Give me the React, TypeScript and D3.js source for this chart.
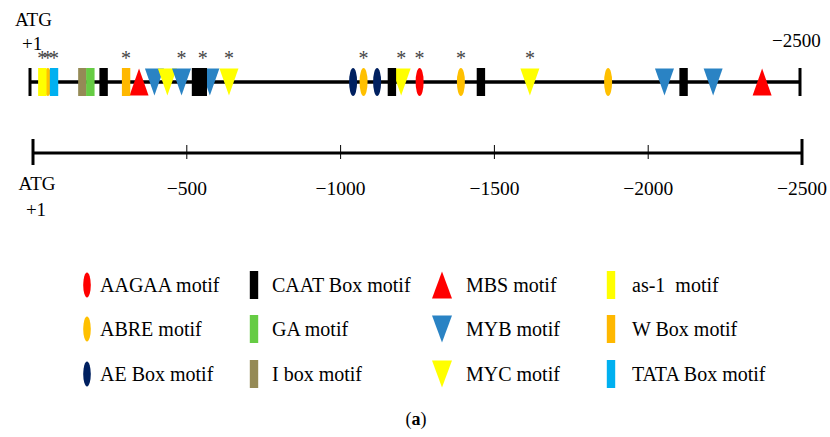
import React from "react";
import * as d3 from "d3";

// motif types, in legend order (column by column)
const motifNames = [
  "AAGAA motif", "ABRE motif", "AE Box motif",
  "CAAT Box motif", "GA motif", "I box motif",
  "MBS motif", "MYB motif", "MYC motif",
  "as-1  motif", "W Box motif", "TATA Box motif",
];
const motifShapes = [
  "ellipse", "ellipse", "ellipse",
  "rect", "rect", "rect",
  "up", "down", "down",
  "rect", "rect", "rect",
];
const motifColors = [
  "#ff0000", "#ffc000", "#002060",
  "#000000", "#66cc44", "#958a56",
  "#ff0000", "#2a83c4", "#ffff00",
  "#ffff00", "#ffb800", "#00b0f0",
];

// sites on the promoter: motif, distance upstream of ATG (bp), marked with *
const sites: [string, number, boolean][] = [
  ["as-1  motif", 40, true],
  ["ABRE motif", 58, true],
  ["TATA Box motif", 78, true],
  ["I box motif", 170, false],
  ["GA motif", 196, false],
  ["CAAT Box motif", 239, false],
  ["W Box motif", 312, true],
  ["MBS motif", 354, false],
  ["MYB motif", 404, false],
  ["MYC motif", 446, false],
  ["MYB motif", 492, true],
  ["CAAT Box motif", 539, false],
  ["CAAT Box motif", 561, true],
  ["MYB motif", 584, false],
  ["MYC motif", 646, true],
  ["AE Box motif", 1049, false],
  ["ABRE motif", 1083, true],
  ["AE Box motif", 1127, false],
  ["CAAT Box motif", 1175, false],
  ["MYC motif", 1205, true],
  ["AAGAA motif", 1265, true],
  ["ABRE motif", 1399, true],
  ["CAAT Box motif", 1464, false],
  ["MYC motif", 1623, true],
  ["ABRE motif", 1877, false],
  ["MYB motif", 2060, false],
  ["CAAT Box motif", 2122, false],
  ["MYB motif", 2218, false],
  ["MBS motif", 2377, false],
];

const axisTicks = [0, 500, 1000, 1500, 2000, 2500];

const W = 830;
const H = 437;
const FONT = "Liberation Serif, DejaVu Serif, serif";

const Glyph = ({ shape, color, cx, cy, big }: { shape: string; color: string; cx: number; cy: number; big?: boolean }) => {
  const h = 28;
  if (shape === "ellipse") return <ellipse cx={cx} cy={cy} rx={big ? 3.8 : 4} ry={big ? 12.5 : 14} fill={color} />;
  if (shape === "rect") return <rect x={cx - 4.2} y={cy - h / 2} width={8.4} height={h} fill={color} />;
  const tw = big ? 20 : 19;
  const th = 27;
  const pts =
    shape === "up"
      ? [[cx, cy - th / 2], [cx + tw / 2, cy + th / 2], [cx - tw / 2, cy + th / 2]]
      : [[cx - tw / 2, cy - th / 2], [cx + tw / 2, cy - th / 2], [cx, cy + th / 2]];
  return <polygon points={pts.map((p) => p.join(",")).join(" ")} fill={color} />;
};

export default function App() {
  const trackY = 82;
  const axisY = 153;
  const xTrack = d3.scaleLinear().domain([0, 2500]).range([30, 800]);
  const xAxis = d3.scaleLinear().domain([0, 2500]).range([33, 802]);

  const idx = (name: string) => motifNames.indexOf(name);
  const order = (s: string) => (motifShapes[idx(s)] === "up" || motifShapes[idx(s)] === "down" ? 0 : motifShapes[idx(s)] === "ellipse" ? 1 : 2);
  const drawn = [...sites].sort((a, b) => order(a[0]) - order(b[0]));

  const legendX = [87, 254, 442, 611];
  const legendTextX = [100, 272, 466, 632];
  const legendY = [285, 329, 374];

  const txt = { fontFamily: FONT, fill: "#000" };

  return (
    <svg width={W} height={H} style={{ position: "absolute", left: 0, top: 0, background: "#fff", fontFamily: FONT }}>
      <rect width={W} height={H} fill="#fff" />
      {/* top labels */}
      <text x={15} y={26} fontSize={19} style={txt}>ATG</text>
      <text x={22} y={50} fontSize={19} style={txt}>+1</text>
      <text x={772} y={47} fontSize={19} style={txt}>−2500</text>

      {/* promoter track */}
      <line x1={xTrack(0)} x2={xTrack(2500)} y1={trackY} y2={trackY} stroke="#000" strokeWidth={3.5} />
      <line x1={xTrack(0)} x2={xTrack(0)} y1={68} y2={96} stroke="#000" strokeWidth={3} />
      <line x1={xTrack(2500)} x2={xTrack(2500)} y1={68} y2={96} stroke="#000" strokeWidth={3} />
      {drawn.map(([m, pos], i) => (
        <Glyph key={i} shape={motifShapes[idx(m)]} color={motifColors[idx(m)]} cx={xTrack(pos)} cy={trackY} />
      ))}
      {sites.filter((s) => s[2]).map(([, pos], i) => (
        <text key={i} x={xTrack(pos)} y={65} fontSize={20} textAnchor="middle" style={{ ...txt, fill: "#444" }}>*</text>
      ))}

      {/* scale axis */}
      <line x1={xAxis(0)} x2={xAxis(2500)} y1={axisY} y2={axisY} stroke="#000" strokeWidth={3} />
      {axisTicks.map((t, i) => {
        const end = i === 0 || i === axisTicks.length - 1;
        return (
          <line key={t} x1={xAxis(t)} x2={xAxis(t)} y1={end ? 139 : 145} y2={end ? 165 : 159} stroke="#000" strokeWidth={end ? 3 : 1} />
        );
      })}
      {axisTicks.slice(1).map((t) => (
        <text key={t} x={xAxis(t)} y={195} fontSize={19.5} textAnchor="middle" style={txt}>{"−" + t}</text>
      ))}
      <text x={37} y={190} fontSize={19} textAnchor="middle" style={txt}>ATG</text>
      <text x={36} y={216} fontSize={19} textAnchor="middle" style={txt}>+1</text>

      {/* legend */}
      {motifNames.map((m, i) => {
        const c = Math.floor(i / 3);
        const r = i % 3;
        return (
          <g key={m}>
            <Glyph shape={motifShapes[i]} color={motifColors[i]} cx={legendX[c]} cy={legendY[r]} big />
            <text x={legendTextX[c]} y={legendY[r] + 7} fontSize={20} style={{ ...txt, whiteSpace: "pre" }}>{m}</text>
          </g>
        );
      })}

      <text x={416} y={425} fontSize={18} textAnchor="middle" style={txt}>
        (<tspan fontWeight="bold">a</tspan>)
      </text>
    </svg>
  );
}
